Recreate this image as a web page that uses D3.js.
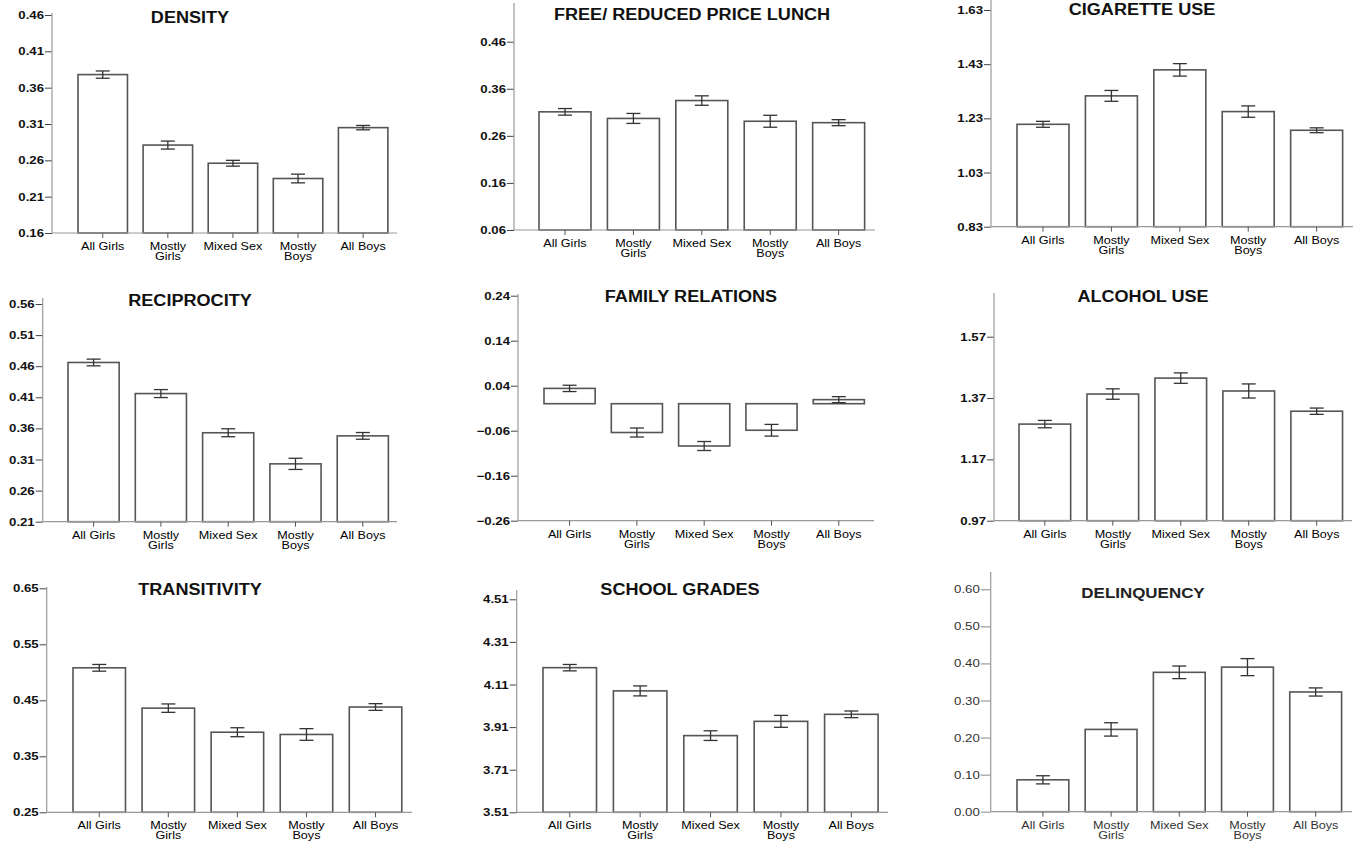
<!DOCTYPE html>
<html>
<head>
<meta charset="utf-8">
<script src="https://cdn.jsdelivr.net/npm/d3@7"></script>
<style>
  body { margin: 0; background: #fff; }
  svg { font-family: "Liberation Sans", Arial, sans-serif; }
</style>
</head>
<body>
<div id="chart"></div>
<script>
// groups on the x axis (two-line labels split on "|")
const groups = ["All Girls", "Mostly|Girls", "Mixed Sex", "Mostly|Boys", "All Boys"];

const titles = ["DENSITY", "FREE/ REDUCED PRICE LUNCH", "CIGARETTE USE",
                "RECIPROCITY", "FAMILY RELATIONS", "ALCOHOL USE",
                "TRANSITIVITY", "SCHOOL GRADES", "DELINQUENCY"];

// group means, one row per panel
const means = [
  [0.378, 0.281, 0.256, 0.235, 0.305],
  [0.311, 0.297, 0.335, 0.291, 0.288],
  [1.208, 1.313, 1.409, 1.255, 1.186],
  [0.466, 0.416, 0.353, 0.303, 0.348],
  [0.034, -0.064, -0.094, -0.059, 0.009],
  [1.285, 1.383, 1.435, 1.393, 1.327],
  [0.508, 0.436, 0.393, 0.389, 0.438],
  [4.189, 4.080, 3.870, 3.937, 3.970],
  [0.086, 0.222, 0.376, 0.390, 0.323]
];

// half-width of error bars
const errs = [
  [0.005, 0.0055, 0.004, 0.006, 0.003],
  [0.007, 0.0106, 0.010, 0.0127, 0.0064],
  [0.011, 0.020, 0.023, 0.021, 0.009],
  [0.0054, 0.0064, 0.0064, 0.009, 0.0054],
  [0.007, 0.010, 0.010, 0.013, 0.0067],
  [0.012, 0.017, 0.017, 0.023, 0.0103],
  [0.006, 0.0075, 0.008, 0.0104, 0.006],
  [0.015, 0.0235, 0.0227, 0.028, 0.0156],
  [0.011, 0.018, 0.017, 0.023, 0.011]
];

const yTicks = [
  [0.16, 0.21, 0.26, 0.31, 0.36, 0.41, 0.46],
  [0.06, 0.16, 0.26, 0.36, 0.46],
  [0.83, 1.03, 1.23, 1.43, 1.63],
  [0.21, 0.26, 0.31, 0.36, 0.41, 0.46, 0.51, 0.56],
  [-0.26, -0.16, -0.06, 0.04, 0.14, 0.24],
  [0.97, 1.17, 1.37, 1.57],
  [0.25, 0.35, 0.45, 0.55, 0.65],
  [3.51, 3.71, 3.91, 4.11, 4.31, 4.51],
  [0.00, 0.10, 0.20, 0.30, 0.40, 0.50, 0.60]
];

// pixel layout of each panel
// ax: y axis x, axEnd: x axis end, bl/br: first bar left / last bar right,
// base: bottom tick y, top: top tick y, axTop: top of y axis line, tx/ty: title centre
const layout = [
  {ax: 52,    axEnd: 397,  bl: 78,   br: 373,  base: 233,   top: 15,    axTop: 13,  tx: 190,  ty: 17},
  {ax: 514,   axEnd: 875,  bl: 539,  br: 849,  base: 230,   top: 41.7,  axTop: 3,   tx: 692,  ty: 14},
  {ax: 991,   axEnd: 1353, bl: 1017, br: 1327, base: 226.7, top: 10,    axTop: 0,   tx: 1142, ty: 9},
  {ax: 42.7,  axEnd: 397,  bl: 68,   br: 373,  base: 521.7, top: 304,   axTop: 298, tx: 190,  ty: 300},
  {ax: 518,   axEnd: 874,  bl: 544,  br: 849,  base: 520.7, top: 295.7, axTop: 294, tx: 691,  ty: 296},
  {ax: 994,   axEnd: 1352, bl: 1019, br: 1327, base: 520.7, top: 336.7, axTop: 293, tx: 1143, ty: 296},
  {ax: 46.7,  axEnd: 412,  bl: 73,   br: 386,  base: 812.3, top: 588.3, axTop: 587, tx: 200,  ty: 589},
  {ax: 516.7, axEnd: 888,  bl: 543,  br: 862,  base: 812.3, top: 599.3, axTop: 590, tx: 680,  ty: 589},
  {ax: 990.7, axEnd: 1352, bl: 1017, br: 1326, base: 811.7, top: 589.3, axTop: 572, tx: 1143, ty: 593}
];

const W = 1360, H = 846;
const sx = 1.2; // the source image is stretched horizontally

let svg = d3.select("#chart")
    .append("svg")
    .attr("width", W)
    .attr("height", H);

titles.forEach(function(title, i) {
    let L = layout[i];
    let last = i === 8; // the delinquency panel is drawn in a lighter style
    let g = svg.append("g");
    let t = yTicks[i];

    let y = d3.scaleLinear()
        .domain([t[0], t[t.length - 1]])
        .range([L.base, L.top]);

    let x = d3.scaleBand()
        .domain(groups)
        .range([L.bl, L.br + (L.br - L.bl) * 0.24 / 4.76])
        .paddingInner(0.24)
        .paddingOuter(0);

    let zero = Math.max(t[0], 0);
    let data = groups.map((k, j) => ({k: k, v: means[i][j], e: errs[i][j]}));

    // bars
    g.selectAll("rect.bar").data(data).enter()
        .append("rect")
        .attr("class", "bar")
        .attr("x", d => x(d.k))
        .attr("width", x.bandwidth())
        .attr("y", d => Math.min(y(d.v), y(zero)))
        .attr("height", d => Math.abs(y(d.v) - y(zero)))
        .attr("fill", "#fff")
        .attr("stroke", "#555")
        .attr("stroke-width", 1.6);

    // error bars
    let cap = 7;
    let eb = g.selectAll("g.err").data(data).enter()
        .append("g")
        .attr("class", "err")
        .attr("stroke", "#333")
        .attr("stroke-width", 1.3);
    eb.append("line")
        .attr("x1", d => x(d.k) + x.bandwidth() / 2)
        .attr("x2", d => x(d.k) + x.bandwidth() / 2)
        .attr("y1", d => y(d.v - d.e))
        .attr("y2", d => y(d.v + d.e));
    eb.append("line")
        .attr("x1", d => x(d.k) + x.bandwidth() / 2 - cap)
        .attr("x2", d => x(d.k) + x.bandwidth() / 2 + cap)
        .attr("y1", d => y(d.v + d.e))
        .attr("y2", d => y(d.v + d.e));
    eb.append("line")
        .attr("x1", d => x(d.k) + x.bandwidth() / 2 - cap)
        .attr("x2", d => x(d.k) + x.bandwidth() / 2 + cap)
        .attr("y1", d => y(d.v - d.e))
        .attr("y2", d => y(d.v - d.e));

    // y axis
    let yAxis = g.append("g")
        .attr("transform", `translate(${L.ax},0)`)
        .call(d3.axisLeft(y)
            .tickValues(t)
            .tickSize(last ? 10 : 7)
            .tickPadding(1)
            .tickFormat(d3.format(".2f")))
        .call(a => a.select(".domain").remove());
    yAxis.selectAll(".tick line").attr("stroke", last ? "#888" : "#444");
    yAxis.selectAll(".tick text")
        .attr("transform", `scale(${sx},1)`)
        .attr("x", -(last ? 11 : 8) / sx)
        .style("font-size", "11px")
        .style("font-family", "Liberation Sans, Arial, sans-serif")
        .attr("fill", last ? "#333" : "#111")
        .style("font-weight", last ? "normal" : "bold");

    g.append("line")
        .attr("x1", L.ax).attr("x2", L.ax)
        .attr("y1", L.axTop).attr("y2", L.base)
        .attr("stroke", "#999")
        .attr("stroke-width", 1.2);

    // x axis line and ticks
    g.append("line")
        .attr("x1", L.ax).attr("x2", L.axEnd)
        .attr("y1", L.base).attr("y2", L.base)
        .attr("stroke", "#999")
        .attr("stroke-width", 1.2);

    g.selectAll("line.xt").data(groups).enter()
        .append("line")
        .attr("class", "xt")
        .attr("x1", d => x(d) + x.bandwidth() / 2)
        .attr("x2", d => x(d) + x.bandwidth() / 2)
        .attr("y1", L.base)
        .attr("y2", L.base + 5)
        .attr("stroke", "#555");

    // x labels
    let xl = g.selectAll("text.xl").data(groups).enter()
        .append("text")
        .attr("class", "xl")
        .attr("transform", d => `translate(${x(d) + x.bandwidth() / 2},${L.base + 17}) scale(${sx},1)`)
        .style("text-anchor", "middle")
        .style("font-size", "10.5px")
        .attr("fill", last ? "#333" : "#000");
    xl.selectAll("tspan")
        .data(d => d.split("|"))
        .enter()
        .append("tspan")
        .attr("x", 0)
        .attr("dy", (d, j) => j === 0 ? 0 : 10)
        .text(d => d);

    // title
    g.append("text")
        .attr("transform", `translate(${L.tx},${L.ty}) scale(1.13,1)`)
        .attr("dy", "0.36em")
        .style("text-anchor", "middle")
        .style("font-size", last ? "15px" : "16px")
        .style("font-weight", "bold")
        .attr("fill", last ? "#222" : "#111")
        .text(title);
});
</script>
</body>
</html>
